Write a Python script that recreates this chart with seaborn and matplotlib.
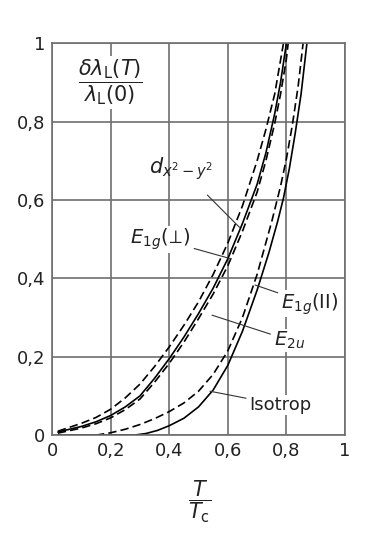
import pandas as pd
import seaborn as sns
import matplotlib.pyplot as plt

t_d = [0.02, 0.10, 0.15, 0.20, 0.25, 0.30, 0.35, 0.40, 0.45, 0.50, 0.55, 0.60,
       0.65, 0.70, 0.73, 0.76, 0.79]
v_d = [0.010, 0.030, 0.045, 0.066, 0.095, 0.13, 0.175, 0.225, 0.28, 0.34, 0.41, 0.49,
       0.585, 0.70, 0.78, 0.87, 1.0]

t_e1g_perp = [0.02, 0.10, 0.15, 0.20, 0.25, 0.30, 0.35, 0.40, 0.45, 0.50, 0.55, 0.60,
              0.65, 0.70, 0.73, 0.76, 0.78, 0.80]
v_e1g_perp = [0.008, 0.022, 0.034, 0.05, 0.072, 0.10, 0.145, 0.195, 0.25, 0.31, 0.375, 0.45,
              0.54, 0.64, 0.72, 0.82, 0.90, 1.0]

t_e2u = [0.02, 0.10, 0.15, 0.20, 0.25, 0.30, 0.35, 0.40, 0.45, 0.50, 0.55, 0.60,
         0.65, 0.70, 0.73, 0.76, 0.78, 0.80, 0.806]
v_e2u = [0.005, 0.018, 0.029, 0.044, 0.065, 0.092, 0.135, 0.183, 0.237, 0.297, 0.36, 0.432,
         0.52, 0.62, 0.70, 0.795, 0.87, 0.96, 1.0]

t_e1g_par = [0.15, 0.20, 0.25, 0.30, 0.35, 0.40, 0.45, 0.50, 0.55, 0.60, 0.65, 0.70,
             0.75, 0.78, 0.80, 0.82, 0.84, 0.857]
v_e1g_par = [0.0, 0.006, 0.015, 0.027, 0.042, 0.06, 0.082, 0.112, 0.155, 0.215, 0.30, 0.41,
             0.545, 0.635, 0.705, 0.79, 0.89, 1.0]

t_iso = [0.02, 0.28, 0.32, 0.36, 0.40, 0.45, 0.50, 0.55, 0.60, 0.65, 0.70, 0.74,
         0.77, 0.79, 0.81, 0.83, 0.85, 0.87]
v_iso = [0.0, 0.0, 0.004, 0.012, 0.024, 0.043, 0.072, 0.115, 0.178, 0.265, 0.37, 0.465,
         0.545, 0.605, 0.68, 0.77, 0.87, 1.0]

ticks = [0, 0.2, 0.4, 0.6, 0.8, 1]
tick_labels = ['0', '0,2', '0,4', '0,6', '0,8', '1']

sns.set_theme(style='white')
plt.rcParams['font.family'] = ['DejaVu Sans']
plt.rcParams['mathtext.fontset'] = 'dejavusans'

fig = plt.figure(figsize=(3.69, 5.6), dpi=100)
ax = fig.add_axes([0.141, 0.223, 0.794, 0.70])

grau = '#6e6e6e'
gestrichelt = (0, (5, 2.5))
kurven = [
    (t_d, v_d, gestrichelt),
    (t_e1g_perp, v_e1g_perp, '-'),
    (t_e2u, v_e2u, gestrichelt),
    (t_e1g_par, v_e1g_par, gestrichelt),
    (t_iso, v_iso, '-'),
]
for t, v, ls in kurven:
    df = pd.DataFrame({'T': t, 'v': v})
    sns.lineplot(data=df, x='T', y='v', ax=ax, color='black', linewidth=1.2,
                 linestyle=ls, sort=False, estimator=None)

ax.set_xlim(0, 1)
ax.set_ylim(0, 1)
ax.set_xticks(ticks)
ax.set_yticks(ticks)
ax.set_xticklabels(tick_labels)
ax.set_yticklabels(tick_labels)
ax.tick_params(length=0, labelsize=13, colors='#222222', pad=5)
ax.grid(True, color=grau, linewidth=1.2)
for s in ax.spines.values():
    s.set_color(grau)
    s.set_linewidth(1.2)
ax.set_xlabel('')
ax.set_ylabel('')

# Achsenbeschriftung als Bruch
ax.text(0.198, 0.90, r'$\dfrac{\delta\lambda_\mathrm{L}(T)}{\lambda_\mathrm{L}(0)}$',
        ha='center', va='center', fontsize=15, color='#222222',
        bbox=dict(facecolor='white', edgecolor='none', pad=1))
ax.text(0.505, -0.17, r'$\dfrac{T}{T_\mathrm{c}}$', transform=ax.transAxes,
        ha='center', va='center', fontsize=15, color='#222222')

# Kurvenbeschriftungen mit Hinweislinien
lw = 0.8
pfeil = dict(arrowstyle='-', color='#333333', lw=lw, shrinkA=2, shrinkB=0)
weiss = dict(facecolor='white', edgecolor='none', pad=0.5)
ax.annotate(r'$d_{x^2-y^2}$', xy=(0.64, 0.53), xytext=(0.44, 0.68),
            ha='center', va='center', fontsize=15, color='#222222',
            arrowprops=dict(pfeil, shrinkA=10))
ax.annotate(r'$E_{1g}(\!\perp\!)$', xy=(0.61, 0.45), xytext=(0.37, 0.50),
            ha='center', va='center', fontsize=14, color='#222222',
            bbox=weiss, arrowprops=pfeil)
ax.annotate(r'$E_{1g}(\mathrm{II})$', xy=(0.693, 0.383), xytext=(0.88, 0.335),
            ha='center', va='center', fontsize=14, color='#222222',
            bbox=weiss, arrowprops=pfeil)
ax.annotate(r'$E_{2u}$', xy=(0.546, 0.306), xytext=(0.81, 0.242),
            ha='center', va='center', fontsize=14, color='#222222',
            bbox=weiss, arrowprops=pfeil)
ax.annotate('Isotrop', xy=(0.539, 0.112), xytext=(0.78, 0.077),
            ha='center', va='center', fontsize=13, color='#222222',
            bbox=weiss, arrowprops=pfeil)

fig.savefig('out.png', dpi=100, facecolor='white')
